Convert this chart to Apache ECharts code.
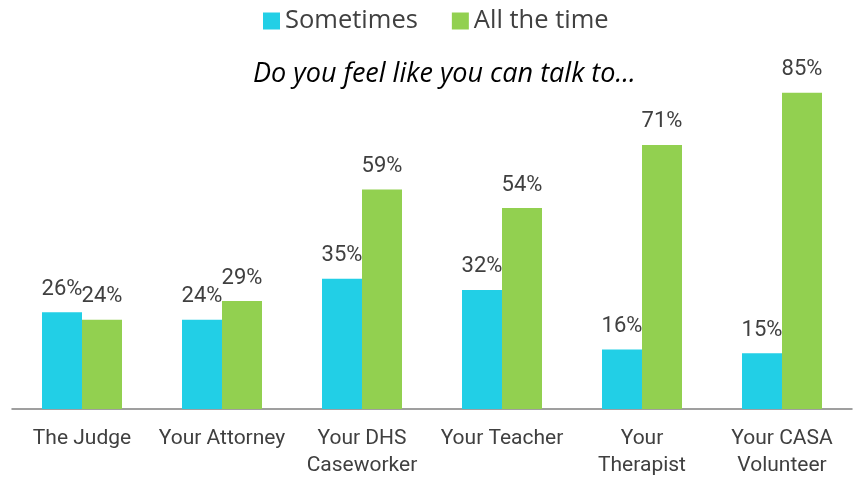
<!DOCTYPE html>
<html><head><meta charset="utf-8">
<script src="https://cdn.jsdelivr.net/npm/echarts@6/dist/echarts.min.js"></script>
<style>html,body{margin:0;padding:0;background:#fff}#c{width:858px;height:479px}</style>
</head><body><div id="c"></div>
<script>
const categories = ['The Judge', 'Your Attorney', 'Your DHS\nCaseworker', 'Your Teacher', 'Your\nTherapist', 'Your CASA\nVolunteer'];
const sometimes = [26, 24, 35, 32, 16, 15];
const allTheTime = [24, 29, 59, 54, 71, 85];
const seriesNames = ['Sometimes', 'All the time'];
const titleText = 'Do you feel like you can talk to...';

const chart = echarts.init(document.getElementById('c'));
const labelStyle = {show: true, position: 'top', distance: 12, formatter: '{c}%', color: '#404040', fontSize: 22, fontFamily: 'Roboto'};
chart.setOption({
  animation: false,
  title: {text: titleText, left: 248, top: 56, textStyle: {fontStyle: 'italic', fontWeight: 'normal', fontSize: 27, color: '#000', fontFamily: 'Open Sans'}},
  legend: {top: 3, left: 258, itemWidth: 17, itemHeight: 17, itemGap: 34, icon: 'rect',
    textStyle: {fontSize: 25.5, color: '#404040', fontFamily: 'Open Sans'}, data: seriesNames},
  grid: {left: 12, right: 6, top: 37, bottom: 69},
  xAxis: {type: 'category', data: categories,
    axisLine: {lineStyle: {color: '#808080', width: 1.5}}, axisTick: {show: false},
    axisLabel: {interval: 0, color: '#404040', fontSize: 21, fontFamily: 'Roboto', lineHeight: 27, margin: 16}},
  yAxis: {type: 'value', min: 0, max: 100, show: false, splitLine: {show: false}},
  series: [
    {name: seriesNames[0], type: 'bar', data: sometimes, barWidth: 40, barGap: '0%', itemStyle: {color: '#22CFE6'}, label: labelStyle},
    {name: seriesNames[1], type: 'bar', data: allTheTime, barWidth: 40, barGap: '0%', itemStyle: {color: '#92D050'}, label: labelStyle}
  ]
});
</script></body></html>
